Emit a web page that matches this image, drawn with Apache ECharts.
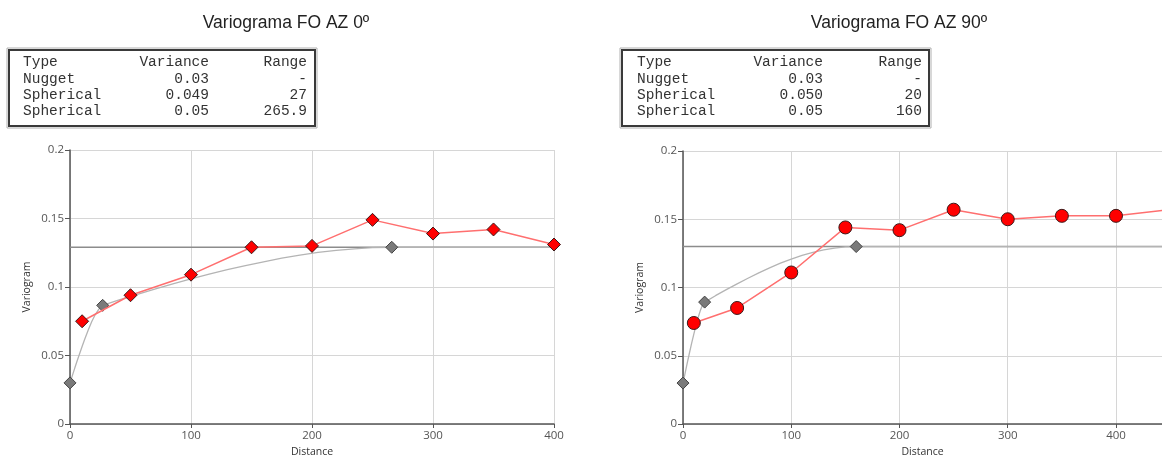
<!DOCTYPE html>
<html><head><meta charset="utf-8">
<script src="https://cdn.jsdelivr.net/npm/echarts@6/dist/echarts.min.js"></script>
<style>html,body{margin:0;padding:0;background:#fff}#c{width:1162px;height:463px}</style>
</head><body><div id="c"></div>
<script>
// ---- data ----
const titles = ['Variograma FO AZ 0º', 'Variograma FO AZ 90º'];
const tableHeader = ['Type', 'Variance', 'Range'];
const tableLeft = [['Nugget', '0.03', '-'], ['Spherical', '0.049', '27'], ['Spherical', '0.05', '265.9']];
const tableRight = [['Nugget', '0.03', '-'], ['Spherical', '0.050', '20'], ['Spherical', '0.05', '160']];
const yTicks = [0, 0.05, 0.1, 0.15, 0.2];
const xTicks = [0, 100, 200, 300, 400];

// experimental variogram, AZ 0
const expDistL = [10, 50, 100, 150, 200, 250, 300, 350, 400];
const expValL  = [0.075, 0.094, 0.109, 0.129, 0.130, 0.149, 0.139, 0.142, 0.131];
// model curve, AZ 0
const modelDistL = [0, 2, 4, 6, 8, 10, 12, 15, 18, 21, 24, 27, 40, 55, 70, 85, 100, 115, 130, 145, 160, 175, 190, 205, 220, 235, 250, 265.9, 400];
const modelValL  = [0.03, 0.0355, 0.0410, 0.0463, 0.0515, 0.0566, 0.0615, 0.0685, 0.0748, 0.0801, 0.0840, 0.0866, 0.0904, 0.0945, 0.0985, 0.1023, 0.1059, 0.1094, 0.1126, 0.1156, 0.1184, 0.1210, 0.1232, 0.1252, 0.1267, 0.1279, 0.1287, 0.129, 0.129];
const modelMarkDistL = [0, 27, 265.9];
const modelMarkValL  = [0.03, 0.0866, 0.129];
const sillL = 0.129;

// experimental variogram, AZ 90
const expDistR = [10, 50, 100, 150, 200, 250, 300, 350, 400, 450];
const expValR  = [0.074, 0.085, 0.111, 0.144, 0.142, 0.157, 0.150, 0.1525, 0.1525, 0.157];
const modelDistR = [0, 2, 4, 6, 8, 10, 12, 14, 16, 18, 20, 30, 40, 50, 60, 70, 80, 90, 100, 110, 120, 130, 140, 150, 160, 450];
const modelValR  = [0.03, 0.0375, 0.0449, 0.0522, 0.0592, 0.0659, 0.0722, 0.0780, 0.0831, 0.0872, 0.0893, 0.0940, 0.0984, 0.1027, 0.1068, 0.1107, 0.1144, 0.1178, 0.1208, 0.1235, 0.1257, 0.1275, 0.1289, 0.1297, 0.13, 0.13];
const modelMarkDistR = [0, 20, 160];
const modelMarkValR  = [0.03, 0.0893, 0.13];
const sillR = 0.13;

const zip = (a, b) => a.map((v, i) => [v, b[i]]);

const labelFont = {color: '#555', fontSize: 11.5, fontFamily: 'Open Sans'};
function xAxis(gi, max) {
  return {type: 'value', gridIndex: gi, min: xTicks[0], max: max, interval: xTicks[1] - xTicks[0],
    name: 'Distance', nameLocation: 'middle', nameGap: 23,
    nameTextStyle: {color: '#333', fontSize: 10.5, fontFamily: 'Open Sans'},
    axisLine: {show: true, lineStyle: {color: '#555', width: 1.5}},
    axisTick: {show: true, length: 4, lineStyle: {color: '#555'}},
    axisLabel: Object.assign({margin: 6, showMaxLabel: max === 400}, labelFont),
    splitLine: {show: true, showMaxLine: max === 400, lineStyle: {color: '#d6d6d6', width: 1}}};
}
function yAxis(gi) {
  return {type: 'value', gridIndex: gi, min: yTicks[0], max: yTicks[yTicks.length - 1], interval: yTicks[1] - yTicks[0],
    name: 'Variogram', nameLocation: 'middle', nameGap: 37, nameRotate: 90,
    nameTextStyle: {color: '#333', fontSize: 10.5, fontFamily: 'Open Sans'},
    axisLine: {show: true, lineStyle: {color: '#555', width: 1.5}},
    axisTick: {show: true, length: 5, lineStyle: {color: '#555'}},
    axisLabel: Object.assign({margin: 6}, labelFont),
    splitLine: {show: true, lineStyle: {color: '#d6d6d6', width: 1}}};
}
function seriesFor(gi, sill, xmax, mDist, mVal, mkDist, mkVal, eDist, eVal, sym, symSize) {
  return [
    {type: 'line', xAxisIndex: gi, yAxisIndex: gi, data: [[0, sill], [xmax, sill]], showSymbol: false,
      lineStyle: {color: '#8c8c8c', width: 1.6}, silent: true, z: 2},
    {type: 'line', xAxisIndex: gi, yAxisIndex: gi, data: zip(mDist, mVal), showSymbol: false,
      smooth: false, lineStyle: {color: '#b4b4b4', width: 1.3}, silent: true, z: 3},
    {type: 'line', xAxisIndex: gi, yAxisIndex: gi, data: zip(mkDist, mkVal), symbol: 'diamond', symbolSize: 12,
      lineStyle: {width: 0, opacity: 0}, itemStyle: {color: '#7a7a7a', borderColor: '#444', borderWidth: 1}, z: 4},
    {type: 'line', xAxisIndex: gi, yAxisIndex: gi, data: zip(eDist, eVal), symbol: sym, symbolSize: symSize,
      showAllSymbol: true,
      lineStyle: {color: '#ff6f6f', width: 1.5}, itemStyle: {color: '#ff0000', borderColor: '#3a1a1a', borderWidth: 1}, z: 5}
  ];
}

// table graphics
function table(x0, y0, w, h, colX, rows) {
  const els = [
    {type: 'rect', shape: {x: x0 - 1, y: y0 - 1, width: w + 2, height: h + 2}, style: {fill: 'none', stroke: '#b0b0b0', lineWidth: 1}},
    {type: 'rect', shape: {x: x0 + 1, y: y0 + 1, width: w - 2, height: h - 2}, style: {fill: '#fff', stroke: '#3a3a3a', lineWidth: 2}}
  ];
  const all = [tableHeader].concat(rows);
  all.forEach((r, i) => {
    const y = y0 + 13.5 + i * 16.2;
    const f = '14.5px "Liberation Mono"';
    els.push({type: 'text', style: {text: r[0], x: colX[0], y: y, font: f, fill: '#333', align: 'left', verticalAlign: 'middle'}});
    els.push({type: 'text', style: {text: r[1], x: colX[1], y: y, font: f, fill: '#333', align: 'right', verticalAlign: 'middle'}});
    els.push({type: 'text', style: {text: r[2], x: colX[2], y: y, font: f, fill: '#333', align: 'right', verticalAlign: 'middle'}});
  });
  return els;
}

const chart = echarts.init(document.getElementById('c'), null, {renderer: 'canvas'});
chart.setOption({
  backgroundColor: '#fff',
  animation: false,
  title: [
    {text: titles[0], left: 286, top: 14, textAlign: 'center', padding: 0,
      textStyle: {fontFamily: 'Liberation Sans', fontSize: 17.5, fontWeight: 'normal', color: '#222'}},
    {text: titles[1], left: 899, top: 14, textAlign: 'center', padding: 0,
      textStyle: {fontFamily: 'Liberation Sans', fontSize: 17.5, fontWeight: 'normal', color: '#222'}}
  ],
  grid: [
    {left: 70, top: 150, width: 484, height: 277},
    {left: 683, top: 151, right: 0, height: 278}
  ],
  xAxis: [xAxis(0, 400), xAxis(1, 442.5)],
  yAxis: [yAxis(0), yAxis(1)],
  series: [].concat(
    seriesFor(0, sillL, 400, modelDistL, modelValL, modelMarkDistL, modelMarkValL, expDistL, expValL, 'diamond', 13),
    seriesFor(1, sillR, 450, modelDistR, modelValR, modelMarkDistR, modelMarkValR, expDistR, expValR, 'circle', 13)
  ),
  graphic: [].concat(
    table(8, 49, 308, 78, [23, 209, 307], tableLeft),
    table(621, 49, 309, 78, [637, 823, 922], tableRight)
  )
});
</script>
</body></html>
